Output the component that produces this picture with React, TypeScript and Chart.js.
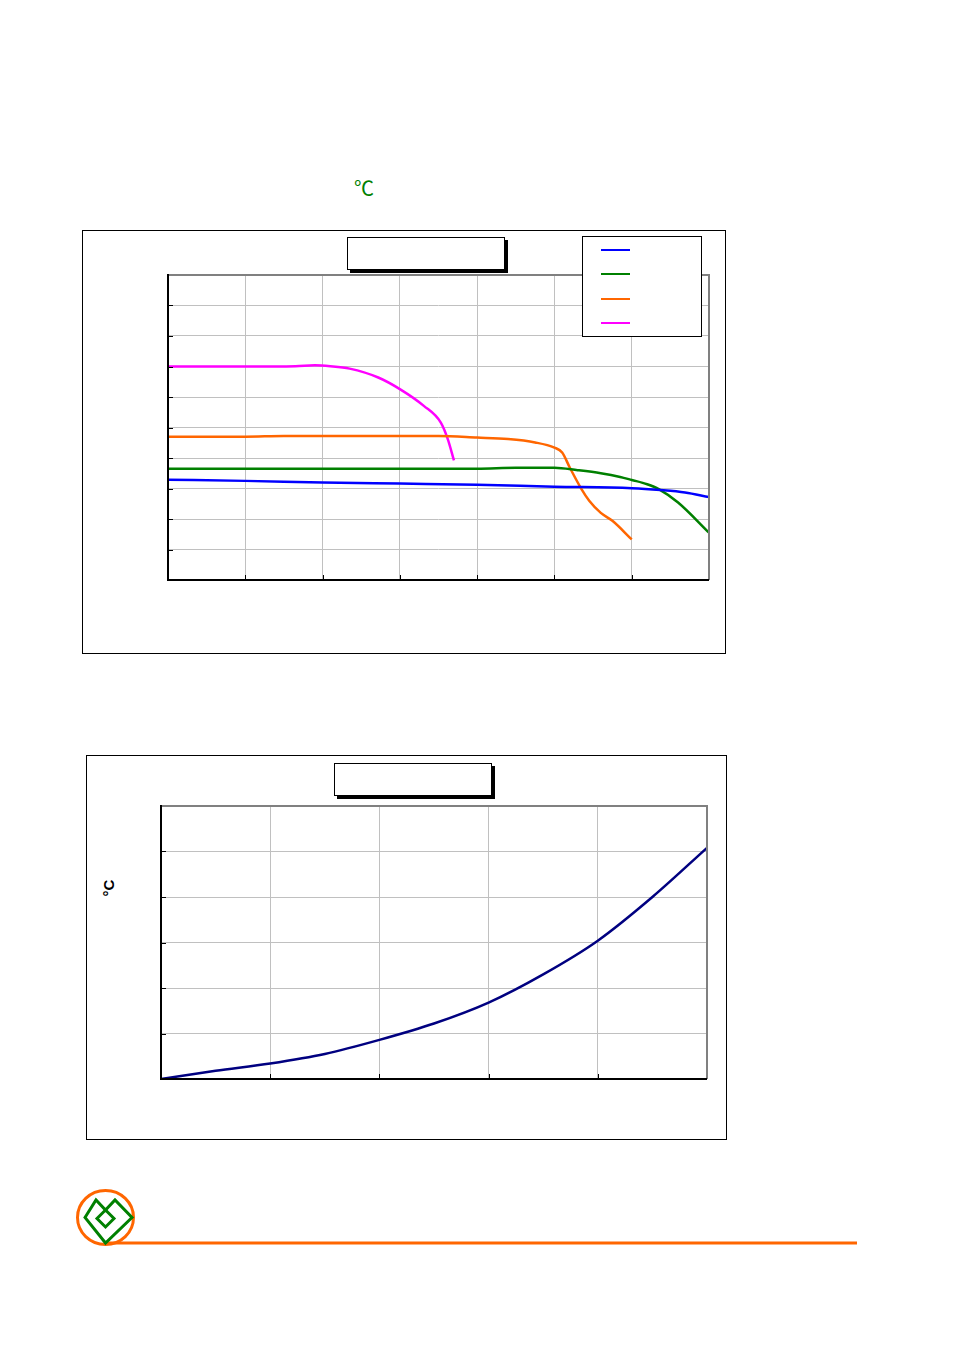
import React, { useEffect, useRef } from 'react';
import { Chart, registerables } from 'chart.js';

Chart.register(...registerables);

// ---------- Chart 1 data (x: 7 grid intervals, y: 10 grid intervals) ----------
const chart1XMax = 7;
const chart1YMax = 10;

const blueX = [0, 1, 2, 3, 4, 5, 6, 6.37, 6.69, 7];
const blueY = [3.29, 3.25, 3.2, 3.16, 3.12, 3.06, 3.01, 2.95, 2.87, 2.72];

const greenX = [0, 1, 2, 3, 4, 4.5, 5, 5.3, 5.6, 5.85, 6, 6.2, 6.35, 6.6, 7];
const greenY = [3.65, 3.65, 3.65, 3.65, 3.65, 3.68, 3.68, 3.6, 3.5, 3.38, 3.28, 3.14, 2.98, 2.54, 1.55];

const orangeX = [0, 1, 1.5, 2, 3, 3.5, 4, 4.4, 4.75, 5, 5.1, 5.2, 5.35, 5.45, 5.6, 5.75, 6];
const orangeY = [4.7, 4.7, 4.72, 4.72, 4.72, 4.72, 4.67, 4.62, 4.51, 4.34, 4.18, 3.68, 2.98, 2.6, 2.2, 1.94, 1.33];

const magentaX = [0, 1, 1.65, 1.9, 2.1, 2.35, 2.72, 3, 3.31, 3.53, 3.62, 3.7];
const magentaY = [7.0, 7.0, 7.01, 7.04, 7.01, 6.93, 6.64, 6.26, 5.71, 5.16, 4.62, 3.92];

// ---------- Chart 2 data (x: 5 grid intervals, y: 6 grid intervals) ----------
const chart2XMax = 5;
const chart2YMax = 6;
const riseX = [0, 0.5, 1, 1.5, 2, 2.5, 3, 3.5, 4, 4.5, 5];
const riseY = [0, 0.18, 0.34, 0.55, 0.86, 1.22, 1.68, 2.3, 3.04, 4.0, 5.08];

const series1 = [
  { label: 'A', xs: blueX, ys: blueY, color: '#0000FF' },
  { label: 'B', xs: greenX, ys: greenY, color: '#008000' },
  { label: 'C', xs: orangeX, ys: orangeY, color: '#FF6600' },
  { label: 'D', xs: magentaX, ys: magentaY, color: '#FF00FF' },
];
const series2 = [{ label: 'T', xs: riseX, ys: riseY, color: '#000080' }];

const framePlugin = {
  id: 'plotFrame',
  afterDatasetsDraw(chart: any) {
    const { ctx, chartArea, scales } = chart;
    const { left, right, top, bottom } = chartArea;
    ctx.save();
    // inner tick marks
    ctx.strokeStyle = '#000';
    ctx.lineWidth = 1;
    ctx.beginPath();
    scales.y.ticks.forEach((t: any) => {
      const py = Math.round(scales.y.getPixelForValue(t.value)) + 0.5;
      ctx.moveTo(left, py);
      ctx.lineTo(left + 5, py);
    });
    scales.x.ticks.forEach((t: any) => {
      const px = Math.round(scales.x.getPixelForValue(t.value)) + 0.5;
      ctx.moveTo(px, bottom);
      ctx.lineTo(px, bottom - 5);
    });
    ctx.stroke();
    // top & right gray
    ctx.strokeStyle = '#808080';
    ctx.lineWidth = 2;
    ctx.beginPath();
    ctx.moveTo(left, top);
    ctx.lineTo(right, top);
    ctx.lineTo(right, bottom);
    ctx.stroke();
    // left & bottom black
    ctx.strokeStyle = '#000';
    ctx.beginPath();
    ctx.moveTo(left, top - 1);
    ctx.lineTo(left, bottom);
    ctx.lineTo(right, bottom);
    ctx.stroke();
    ctx.restore();
  },
};

type Series = { label: string; xs: number[]; ys: number[]; color: string };

function LineChart(props: {
  left: number; top: number; width: number; height: number;
  series: Series[]; xMax: number; yMax: number; lineWidth: number;
}) {
  const ref = useRef<HTMLCanvasElement>(null);
  const { left, top, width, height, series, xMax, yMax, lineWidth } = props;
  useEffect(() => {
    if (!ref.current) return;
    const chart = new Chart(ref.current, {
      type: 'line',
      data: {
        datasets: series.map((s) => ({
          label: s.label,
          data: s.xs.map((x, i) => ({ x, y: s.ys[i] })),
          borderColor: s.color,
          backgroundColor: s.color,
          borderWidth: lineWidth,
          pointRadius: 0,
          fill: false,
          cubicInterpolationMode: 'monotone' as const,
        })),
      },
      options: {
        animation: false,
        responsive: false,
        maintainAspectRatio: false,
        layout: { padding: 10 },
        plugins: { legend: { display: false }, tooltip: { enabled: false }, title: { display: false } },
        scales: {
          x: {
            type: 'linear', min: 0, max: xMax,
            ticks: { display: false, stepSize: 1 },
            grid: { color: '#c0c0c0', lineWidth: 1, drawTicks: false },
            border: { display: false },
            afterFit: (s: any) => { s.height = 0; },
          },
          y: {
            type: 'linear', min: 0, max: yMax,
            ticks: { display: false, stepSize: 1 },
            grid: { color: '#c0c0c0', lineWidth: 1, drawTicks: false },
            border: { display: false },
            afterFit: (s: any) => { s.width = 0; },
          },
        },
      } as any,
      plugins: [framePlugin],
    });
    return () => chart.destroy();
  }, []);
  return (
    <canvas
      ref={ref}
      width={width}
      height={height}
      style={{ position: 'absolute', left, top, width, height }}
    />
  );
}

const abs = (l: number, t: number, w: number, h: number, extra: any = {}) => ({
  position: 'absolute' as const, left: l, top: t, width: w, height: h, boxSizing: 'border-box' as const, ...extra,
});

export default function App() {
  return (
    <div style={{ position: 'absolute', left: 0, top: 0, width: 954, height: 1351, background: '#fff', overflow: 'hidden' }}>
      {/* header degree sign */}
      <div style={{ position: 'absolute', left: 354, top: 176, fontFamily: '"Noto Sans CJK SC", sans-serif', fontSize: 20, lineHeight: '24px', color: '#008000' }}>℃</div>

      {/* Chart 1 */}
      <div style={abs(82, 230, 644, 424, { border: '1px solid #000' })} />
      <LineChart left={158} top={265} width={561} height={325} series={series1} xMax={chart1XMax} yMax={chart1YMax} lineWidth={2.5} />
      <div style={abs(347, 237, 158, 33, { border: '1px solid #000', background: '#fff', boxShadow: '3px 3px 0 #000' })} />
      <div style={abs(582, 236, 120, 101, { border: '1px solid #000', background: '#fff' })}>
        {series1.map((s, i) => (
          <div key={s.label} style={{ position: 'absolute', left: 18, top: [12, 36, 61, 85][i], width: 29, height: 2, background: s.color }} />
        ))}
      </div>

      {/* Chart 2 */}
      <div style={abs(86, 755, 641, 385, { border: '1px solid #000' })} />
      <LineChart left={151} top={796} width={566} height={293} series={series2} xMax={chart2XMax} yMax={chart2YMax} lineWidth={2.5} />
      <div style={abs(334, 763, 158, 33, { border: '1px solid #000', background: '#fff', boxShadow: '3px 3px 0 #000' })} />
      <div style={{ position: 'absolute', left: 108, top: 888, transform: 'translate(-50%, -50%) rotate(-90deg)', fontFamily: '"Liberation Sans", Arial, sans-serif', fontWeight: 'bold', fontSize: 15, lineHeight: 1, whiteSpace: 'nowrap', color: '#000' }}>°C</div>

      {/* Logo and rule */}
      <svg width={954} height={1351} style={{ position: 'absolute', left: 0, top: 0 }}>
        <line x1={105} y1={1243} x2={857} y2={1243} stroke="#FF6600" strokeWidth={3} />
        <ellipse cx={105.5} cy={1217.5} rx={28} ry={27} fill="none" stroke="#FF6600" strokeWidth={3} />
        <polygon points="85,1217.5 96,1200 105.5,1210 115,1200 132,1217.5 105.5,1243" fill="none" stroke="#008000" strokeWidth={3} strokeLinejoin="miter" />
        <polygon points="105.5,1210 114,1218.5 105.5,1227 97,1218.5" fill="none" stroke="#008000" strokeWidth={3} />
      </svg>
    </div>
  );
}
